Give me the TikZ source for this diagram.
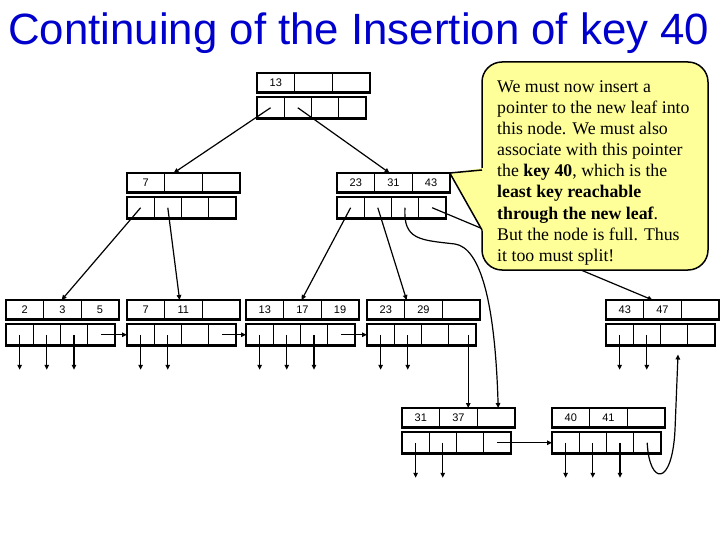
\documentclass[tikz,border=0pt]{standalone}
\usepackage{fontspec}
\setmainfont{Liberation Serif}
\newfontfamily\arialf{Liberation Sans}
\usetikzlibrary{arrows.meta,calc}
\definecolor{calloutfill}{RGB}{255,255,153}
\definecolor{titleblue}{RGB}{0,0,204}
\tikzset{
  keycell/.style={draw,line width=1.3pt,minimum width=37.6pt,minimum height=19.5pt,inner sep=0pt,outer sep=0pt,font=\arialf\fontsize{11}{13}\selectfont},
  ptrcell/.style={draw,line width=1.3pt,minimum width=27.2pt,minimum height=21.5pt,inner sep=0pt,outer sep=0pt},
  outerline/.style={line width=2.4pt},
  conn/.style={line width=1.2pt,-{Triangle[length=5pt,width=4.5pt]}},
  cline/.style={anchor=base west,inner sep=0pt,font=\fontsize{17.8}{21}\selectfont},
}
\newcommand\bpn[6]{%
  \node[keycell] (#1k1) at (#2+18.8,#3+9.75) {#4};
  \node[keycell] (#1k2) at (#2+56.4,#3+9.75) {#5};
  \node[keycell] (#1k3) at (#2+94,#3+9.75) {#6};
  \node[ptrcell] (#1p1) at (#2+13.6,#3+34.75) {};
  \node[ptrcell] (#1p2) at (#2+40.8,#3+34.75) {};
  \node[ptrcell] (#1p3) at (#2+68,#3+34.75) {};
  \node[ptrcell] (#1p4) at (#2+95.2,#3+34.75) {};
  \draw[outerline] (#1k1.north west) rectangle (#1k3.south east);
  \draw[outerline] (#1p1.north west) rectangle (#1p4.south east);
}
\begin{document}
\begin{tikzpicture}[x=1pt,y=-1pt]
\useasboundingbox (0,0) rectangle (720,540);
\node[anchor=base west,inner sep=0pt,font=\arialf\fontsize{43.8}{50}\selectfont,text=titleblue] (title) at (8,45) {Continuing of the Insertion of key 40};
% tree nodes
\bpn{top}{257}{73}{13}{}{}
\bpn{na}{127}{173}{7}{}{}
\bpn{nb}{337}{173}{23}{31}{43}
\bpn{La}{6}{300}{2}{3}{5}
\bpn{Lb}{127}{300}{7}{11}{}
\bpn{Lc}{246}{300}{13}{17}{19}
\bpn{Ld}{367}{300}{23}{29}{}
\bpn{Le}{606}{300}{43}{47}{}
\bpn{Lf}{402}{408}{31}{37}{}
\bpn{Lg}{552}{408}{40}{41}{}
% internal connectors
\draw[conn] (topp1.center) -- ($(nak2.north west)+(9,0)$);
\draw[conn] (topp2.center) -- ($(nbk2.north west)+(15,0)$);
\draw[conn] (nap1.center) -- ($(Lak2.north west)+(18,0)$);
\draw[conn] (nap2.center) -- ($(Lbk2.north west)+(15,0)$);
\draw[conn] (nbp1.center) -- ($(Lck2.north west)+(18,0)$);
\draw[conn] (nbp2.center) -- ($(Ldk2.north west)+(2,0)$);
\draw[conn] (nbp3.center) .. controls (403,240) and (420,240) .. (455,244) .. controls (480,248) and (495,300) .. ($(Lfk3.north west)+(21,0)$);
\draw[conn] (nbp4.center) -- ($(Lek2.north west)+(9,0)$);
% leaf data pointers
\foreach \n/\k in {La/1,La/2,La/3,Lb/1,Lb/2,Lc/1,Lc/2,Lc/3,Ld/1,Ld/2,Le/1,Le/2,Lf/1,Lf/2,Lg/1,Lg/2,Lg/3}
  \draw[conn] (\n p\k.center) -- ++(0,35);
% sibling pointers
\draw[conn] (Lap4.center) -- (Lbp1.west);
\draw[conn] (Lbp4.center) -- (Lcp1.west);
\draw[conn] (Lcp4.center) -- (Ldp1.west);
\draw[conn] (Lfp4.center) -- (Lgp1.west);
\coordinate (Ldout) at ($(Ldp4.center)+(6,0)$);
\draw[conn] (Ldout) -- (Ldout |- Lfk2.north);
\coordinate (Lein) at ($(Lep3.south)+(4,9)$);
\draw[conn] (Lgp4.center) .. controls ($(Lgp4.center)+(2,42)$) and (672,488) .. (675,430) -- (Lein);
% callout
\node[draw,line width=1.5pt,fill=calloutfill,rounded corners=20pt,minimum width=226pt,minimum height=208pt,inner sep=0pt] (callout) at (595,166) {};
\fill[calloutfill] (nbk3.north east) -- (483.5,168) -- (483.5,232) -- cycle;
\draw[line width=1.5pt] (482,170) -- (nbk3.north east) -- (482,230);
\node[cline] (c1) at (497,92.5) {We must now insert a};
\node[cline] (c2) at (497,113.6) {pointer to the new leaf into};
\node[cline] (c3) at (497,134.7) {this node. We must also};
\node[cline] (c4) at (497,155.8) {associate with this pointer};
\node[cline] (c5) at (497,176.9) {the \textbf{key 40}, which is the};
\node[cline] (c6) at (497,198) {\textbf{least key reachable}};
\node[cline] (c7) at (497,219.1) {\textbf{through the new leaf}.};
\node[cline] (c8) at (497,240.2) {But the node is full. Thus};
\node[cline] (c9) at (497,261.3) {it too must split!};
\end{tikzpicture}
\end{document}
